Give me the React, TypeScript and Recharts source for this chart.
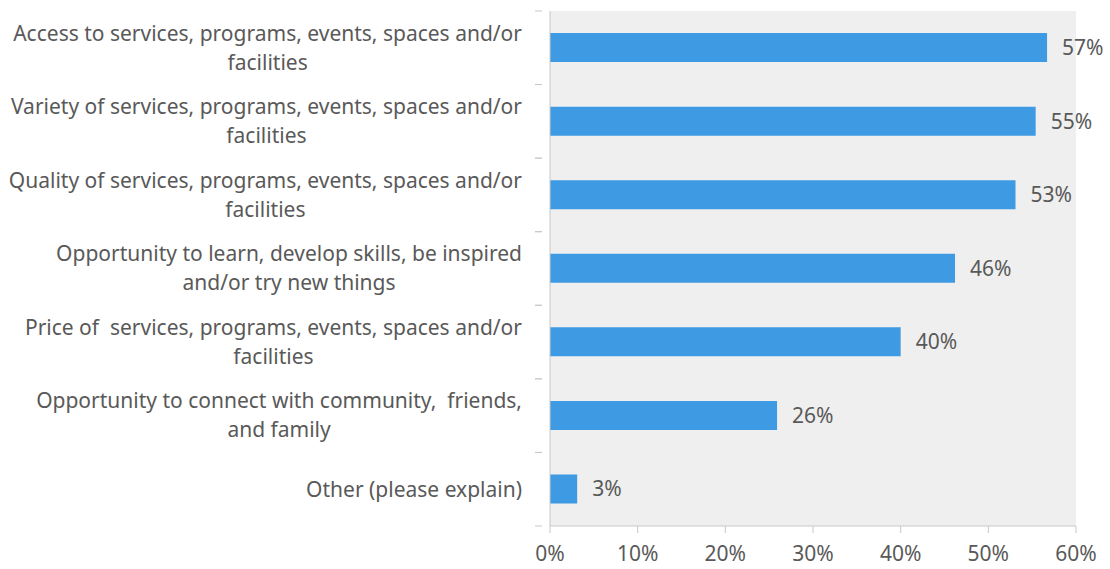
import React from "react";
import { BarChart, Bar, XAxis, YAxis, CartesianGrid, LabelList } from "recharts";

const categories = [
  "Access to services, programs, events, spaces and/or|facilities",
  "Variety of services, programs, events, spaces and/or|facilities",
  "Quality of services, programs, events, spaces and/or|facilities",
  "Opportunity to learn, develop skills, be inspired|and/or try new things",
  "Price of  services, programs, events, spaces and/or|facilities",
  "Opportunity to connect with community,  friends,|and family",
  "Other (please explain)",
];
const shares = [56.7, 55.4, 53.1, 46.2, 40.0, 25.9, 3.1];
const xTicks = [0, 10, 20, 30, 40, 50, 60];

const data = categories.map((c, i) => ({ label: c, value: shares[i] }));

const FONT = "'Noto Sans', sans-serif";
const FS = 21;
const TEXT = "#595959";
const AXIS = "#c8c8c8";

let ctx: CanvasRenderingContext2D | null = null;
function measure(s: string) {
  if (!ctx) ctx = document.createElement("canvas").getContext("2d");
  if (!ctx) return s.length * 10;
  ctx.font = `${FS}px ${FONT}`;
  return ctx.measureText(s).width;
}

function CategoryTick(props: any) {
  const { x, y, payload } = props;
  const lines: string[] = String(payload.value).split("|");
  const maxW = Math.max(...lines.map(measure));
  const cx = x - 20 - maxW / 2;
  const half = 73.6 / 2;
  const lh = 29;
  const top = y - ((lines.length - 1) * lh) / 2;
  return (
    <g>
      <line x1={x - 7} x2={x} y1={y - half} y2={y - half} stroke={AXIS} />
      <line x1={x - 7} x2={x} y1={y + half} y2={y + half} stroke={AXIS} />
      <text textAnchor="middle" fill={TEXT} fontSize={FS} fontFamily={FONT} style={{ whiteSpace: "pre" }}>
        {lines.map((l, i) => (
          <tspan key={i} x={cx} y={top + i * lh} dy="0.35em">
            {l}
          </tspan>
        ))}
      </text>
    </g>
  );
}

export default function App() {
  return (
    <div style={{ position: "absolute", left: 0, top: 0, background: "#fff" }}>
      <BarChart
        width={1110}
        height={569}
        data={data}
        layout="vertical"
        barCategoryGap="30%"
        margin={{ top: 11, right: 34, left: 0, bottom: 0 }}
      >
        <CartesianGrid horizontal={false} vertical={false} fill="#efefef" stroke="none" />
        <XAxis
          type="number"
          domain={[0, 60]}
          ticks={xTicks}
          tickFormatter={(v) => `${v}%`}
          tick={{ fill: TEXT, fontSize: FS, fontFamily: FONT }}
          stroke={AXIS}
          tickSize={7}
          tickMargin={13}
          height={43}
          interval={0}
        />
        <YAxis
          type="category"
          dataKey="label"
          width={550}
          stroke={AXIS}
          tickLine={false}
          tick={<CategoryTick />}
          interval={0}
        />
        <Bar dataKey="value" fill="#3e9be3" isAnimationActive={false}>
          <LabelList
            dataKey="value"
            position="right"
            offset={15}
            formatter={(v: any) => `${Math.round(Number(v))}%`}
            style={{ fill: TEXT, fontSize: FS, fontFamily: FONT }}
          />
        </Bar>
      </BarChart>
    </div>
  );
}
